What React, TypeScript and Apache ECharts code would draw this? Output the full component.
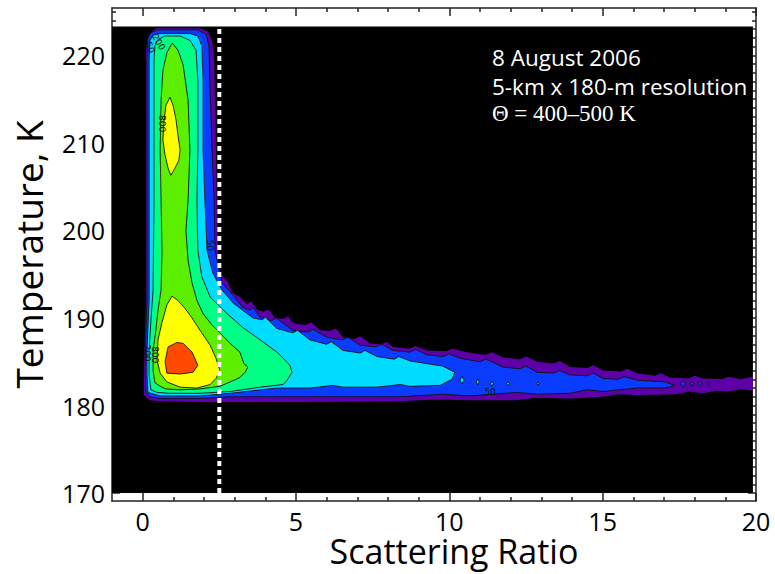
import React, { useEffect, useRef } from "react";
import * as echarts from "echarts";

// ---- axes ----
const X_MIN = -1;
const X_MAX = 20;
const Y_MIN = 169.1;
const Y_MAX = 225.4;
const X_MAJOR = [0, 5, 10, 15, 20];
const X_MINOR = [1, 2, 3, 4, 6, 7, 8, 9, 11, 12, 13, 14, 16, 17, 18, 19];
const Y_MAJOR = [170, 180, 190, 200, 210, 220];
const Y_MINOR = [171, 172, 173, 174, 175, 176, 177, 178, 179, 181, 182, 183, 184, 185, 186, 187, 188, 189,
  191, 192, 193, 194, 195, 196, 197, 198, 199, 201, 202, 203, 204, 205, 206, 207, 208, 209,
  211, 212, 213, 214, 215, 216, 217, 218, 219, 221, 222, 223, 224, 225];
const X_TITLE = "Scattering Ratio";
const Y_TITLE = "Temperature, K";

// ---- data grid extent (black background) ----
const GRID_X = [-1, 19.9];
const GRID_T = [170, 223.3];
const THRESHOLD_X = 2.5;

// ---- annotation ----
const NOTE_LINES = ["8 August 2006", "5-km x 180-m resolution", "Θ = 400–500 K"];

// ---- contour levels: [scattering ratio, temperature K] outlines ----
const PURPLE_LEVEL = [
  [0.04, 181.2], [0.04, 184.0], [0.08, 188.6], [0.11, 192.0], [0.11, 209.2], [0.11, 220.6], [0.21, 222.4],
  [0.43, 223.1], [1.87, 223.1], [2.13, 222.7], [2.26, 221.7], [2.33, 219.4], [2.39, 209.2], [2.42, 201.2],
  [2.46, 196.0], [2.59, 194.8], [2.78, 194.1], [2.91, 192.9], [3.17, 192.4], [3.4, 191.6], [3.55, 191.9],
  [3.73, 190.9], [3.95, 190.7], [4.1, 191.0], [4.32, 190.0], [4.6, 189.9], [4.75, 190.2], [4.9, 189.4],
  [5.3, 189.2], [5.5, 189.5], [5.78, 188.6], [6.1, 188.5], [6.3, 188.8], [6.53, 187.8], [6.9, 187.6],
  [7.1, 187.9], [7.41, 187.1], [7.8, 187.0], [7.95, 187.3], [8.16, 186.7], [8.7, 186.5], [8.9, 186.8],
  [9.27, 186.3], [9.9, 186.2], [10.1, 186.5], [10.67, 186.0], [11.2, 185.8], [11.4, 186.1], [11.75, 185.5],
  [12.3, 185.3], [12.5, 185.6], [12.86, 185.0], [13.4, 184.8], [13.6, 185.1], [13.93, 184.4], [14.5, 184.3],
  [14.7, 184.6], [15.01, 184.0], [15.6, 183.9], [15.8, 184.2], [16.12, 183.7], [16.7, 183.4], [16.9, 183.7],
  [17.2, 183.2], [17.8, 183.1], [18.0, 183.4], [18.27, 183.1], [18.9, 183.0], [19.1, 183.3], [19.5, 183.0],
  [19.9, 183.3], [19.9, 181.7], [19.5, 181.9], [19.1, 181.6], [18.7, 181.7], [18.27, 181.4], [17.8, 181.6],
  [17.4, 181.3], [16.12, 181.2], [15.5, 181.3], [15.0, 181.0], [13.93, 180.8], [12.8, 180.9], [12.2, 180.6],
  [10.67, 180.6], [9.5, 180.7], [8.39, 180.5], [5.13, 180.4], [1.87, 180.4], [0.57, 180.5], [0.24, 180.6],
];
const BLUE_LEVEL = [
  [0.17, 221.9], [0.27, 222.6], [0.5, 222.9], [1.8, 222.9], [2.07, 222.4], [2.16, 221.1], [2.2, 216.0],
  [2.26, 209.2], [2.33, 203.4], [2.36, 197.7], [2.46, 196.0], [2.59, 194.0], [2.95, 192.6], [3.27, 191.2],
  [3.5, 190.9], [3.6, 191.2], [3.83, 190.1], [4.2, 189.7], [4.35, 190.0], [4.9, 188.6], [5.4, 188.4],
  [5.55, 188.7], [6.01, 187.8], [6.5, 187.5], [6.7, 187.8], [7.09, 186.9], [7.6, 186.7], [7.8, 187.0],
  [8.16, 186.3], [8.7, 186.1], [8.9, 186.4], [9.27, 185.8], [9.8, 185.6], [10.0, 185.9], [10.35, 185.4],
  [11.0, 185.0], [11.2, 185.3], [11.75, 184.4], [12.3, 184.2], [12.5, 184.5], [12.86, 183.8], [13.4, 183.7],
  [13.6, 184.0], [13.93, 183.5], [14.5, 183.4], [14.7, 183.7], [15.01, 183.1], [15.5, 183.0], [15.7, 183.3],
  [16.12, 182.9], [17.03, 182.7], [17.36, 182.3], [17.03, 182.0], [16.12, 182.0], [15.01, 181.6],
  [14.5, 181.8], [13.93, 181.4], [12.86, 181.3], [12.2, 181.5], [10.67, 181.1], [9.8, 181.3], [8.39, 181.0],
  [5.13, 181.0], [2.85, 181.0], [1.87, 180.8], [0.57, 180.8], [0.24, 181.0], [0.11, 181.5], [0.08, 184.0],
  [0.11, 188.6], [0.14, 192.0], [0.14, 209.2], [0.14, 219.4],
];
const CYAN_LEVEL = [
  [0.24, 221.7], [0.34, 222.3], [0.57, 222.5], [1.54, 222.5], [1.8, 222.2], [1.93, 221.1], [1.97, 217.1],
  [1.97, 209.2], [2.03, 203.4], [2.1, 197.7], [2.29, 195.1], [2.59, 193.2], [2.95, 191.7], [3.6, 190.0],
  [3.9, 189.8], [4.0, 190.1], [4.38, 188.8], [4.9, 188.3], [5.05, 188.6], [5.46, 187.5], [6.0, 187.0],
  [6.15, 187.3], [6.53, 186.3], [7.1, 186.0], [7.25, 186.3], [7.64, 185.6], [8.2, 185.3], [8.35, 185.6],
  [8.72, 185.1], [9.79, 184.5], [10.18, 183.8], [10.09, 183.0], [9.7, 182.3], [8.72, 182.2], [8.4, 182.4],
  [7.64, 182.1], [6.53, 182.1], [6.2, 182.3], [5.46, 182.0], [4.38, 182.0], [2.85, 181.4], [1.87, 181.1],
  [0.57, 181.1], [0.17, 181.5], [0.14, 183.5], [0.14, 186.3], [0.21, 192.0], [0.21, 209.2], [0.21, 219.4],
];
const SPRING_LEVEL = [
  [0.4, 221.1], [0.5, 221.8], [0.73, 222.2], [1.22, 222.2], [1.54, 221.7], [1.74, 220.6], [1.8, 217.1],
  [1.8, 209.2], [1.77, 203.4], [1.8, 197.7], [1.93, 194.7], [2.2, 192.4], [2.75, 190.5], [3.27, 188.9],
  [3.83, 187.5], [4.38, 186.1], [4.58, 185.4], [4.8, 184.6], [4.87, 183.8], [4.71, 182.9], [4.58, 182.4],
  [3.83, 182.1], [2.85, 181.6], [1.87, 181.4], [0.89, 181.4], [0.47, 181.5], [0.27, 181.8], [0.21, 183.5],
  [0.21, 186.3], [0.27, 189.7], [0.34, 193.2], [0.37, 203.4], [0.37, 214.9], [0.37, 219.4],
];
const LIME_LEVEL = [
  [0.96, 221.4], [1.15, 220.6], [1.32, 218.9], [1.48, 214.9], [1.54, 209.2], [1.48, 203.4], [1.41, 200.0],
  [1.48, 196.6], [1.61, 194.0], [1.77, 192.0], [1.97, 190.5], [2.26, 189.2], [2.52, 188.3], [2.85, 187.1],
  [3.17, 186.1], [3.3, 184.8], [3.43, 184.4], [3.34, 183.8], [3.17, 183.2], [2.85, 182.7], [2.52, 182.2],
  [1.87, 181.9], [1.22, 181.8], [0.76, 181.9], [0.57, 182.2], [0.4, 182.6], [0.34, 184.0], [0.34, 186.3],
  [0.43, 188.6], [0.5, 190.9], [0.6, 193.2], [0.63, 197.7], [0.6, 203.4], [0.57, 209.2], [0.6, 214.9],
  [0.66, 218.3], [0.79, 220.3],
];
const YELLOW_UPPER = [
  [0.89, 215.2], [0.99, 214.3], [1.09, 212.6], [1.15, 210.9], [1.22, 209.2], [1.18, 208.0], [1.05, 207.1],
  [0.92, 206.3], [0.83, 207.1], [0.73, 208.6], [0.66, 210.3], [0.7, 212.6], [0.76, 214.3],
];
const YELLOW_LOWER = [
  [0.96, 192.5], [1.15, 192.0], [1.38, 191.1], [1.61, 190.0], [1.87, 188.6], [2.2, 186.9], [2.39, 185.4],
  [2.52, 184.0], [2.39, 183.1], [2.2, 182.4], [1.77, 182.0], [1.22, 182.1], [0.79, 182.7], [0.57, 183.7],
  [0.47, 185.2], [0.5, 187.5], [0.63, 189.5], [0.79, 191.5],
];
const RED_LEVEL = [
  [1.12, 187.2], [1.32, 187.1], [1.61, 186.1], [1.8, 184.6], [1.64, 183.8], [1.22, 183.6], [0.79, 183.7],
  [0.73, 185.0], [0.83, 186.7],
];
// small islands beyond the main band tips: [x, T, half-width x, half-height T]
const CYAN_ISLANDS = [
  [10.41, 182.9, 0.07, 0.45], [10.93, 182.7, 0.05, 0.35], [11.39, 182.5, 0.05, 0.3], [11.91, 182.5, 0.05, 0.25],
  [12.89, 182.5, 0.04, 0.2],
];
const BLUE_ISLANDS = [
  [17.62, 182.5, 0.08, 0.35], [17.91, 182.5, 0.06, 0.3], [18.17, 182.5, 0.06, 0.3], [18.45, 182.5, 0.04, 0.2],
];

// contour labels: [text, x, T, rotation deg]
const CONTOUR_LABELS: [string, number, number, number][] = [
  ["800", 0.63, 212.2, -90],
  ["50", 2.2, 198.3, -90],
  ["200", 0.52, 221.5, -60],
  ["50", 0.24, 220.9, -70],
  ["800", 0.4, 185.8, -90],
  ["200", 0.14, 186.0, -90],
  ["50", 11.33, 181.6, 0],
];

const COLORS = {
  purple: "#5e00a8",
  blue: "#0a3cff",
  cyan: "#00dcff",
  spring: "#00ff84",
  lime: "#5cf000",
  yellow: "#ffff00",
  red: "#ff4a00",
};

const FONT = "'Open Sans', 'DejaVu Sans', sans-serif";

export default function App() {
  const ref = useRef<HTMLDivElement>(null);
  useEffect(() => {
    if (!ref.current) return;
    const chart = echarts.init(ref.current, undefined, { renderer: "svg" });
    const background = [
      [GRID_X[0], GRID_T[0]], [GRID_X[1], GRID_T[0]], [GRID_X[1], GRID_T[1]], [GRID_X[0], GRID_T[1]],
    ];
    const island = (c: number[]) => [
      [c[0], c[1] + c[3]], [c[0] + c[2], c[1]], [c[0], c[1] - c[3]], [c[0] - c[2], c[1]],
    ];
    const layers = [
      { pts: background, fill: "#000", line: false },
      { pts: PURPLE_LEVEL, fill: COLORS.purple, line: false },
      { pts: BLUE_LEVEL, fill: COLORS.blue, line: true },
      ...BLUE_ISLANDS.map((c) => ({ pts: island(c), fill: COLORS.blue, line: true })),
      { pts: CYAN_LEVEL, fill: COLORS.cyan, line: true },
      ...CYAN_ISLANDS.map((c) => ({ pts: island(c), fill: COLORS.cyan, line: true })),
      { pts: SPRING_LEVEL, fill: COLORS.spring, line: true },
      { pts: LIME_LEVEL, fill: COLORS.lime, line: true },
      { pts: YELLOW_UPPER, fill: COLORS.yellow, line: true },
      { pts: YELLOW_LOWER, fill: COLORS.yellow, line: true },
      { pts: RED_LEVEL, fill: COLORS.red, line: true },
    ];
    const lineStyle = { color: "#222", width: 1.5 };
    const baseX = { type: "value", min: X_MIN, max: X_MAX, splitLine: { show: false } };
    const baseY = { type: "value", min: Y_MIN, max: Y_MAX, splitLine: { show: false } };
    const option: any = {
      animation: false,
      backgroundColor: "#fff",
      grid: { left: 112, right: 19, top: 8, bottom: 73, containLabel: false, outerBoundsMode: "none" },
      xAxis: [
        {
          ...baseX, position: "bottom",
          axisLine: { show: true, onZero: false, lineStyle },
          axisTick: { show: true, inside: true, length: 8, customValues: X_MAJOR, lineStyle },
          axisLabel: { customValues: X_MAJOR, fontSize: 25, lineHeight: 22, fontFamily: FONT, color: "#000", margin: 9 },
        },
        {
          ...baseX, position: "bottom",
          axisLine: { show: false, onZero: false },
          axisTick: { show: true, inside: true, length: 4, customValues: X_MINOR, lineStyle },
          axisLabel: { show: false },
        },
        {
          ...baseX, position: "top",
          axisLine: { show: true, onZero: false, lineStyle },
          axisTick: { show: true, inside: true, length: 8, customValues: X_MAJOR, lineStyle },
          axisLabel: { show: false },
        },
        {
          ...baseX, position: "top",
          axisLine: { show: false, onZero: false },
          axisTick: { show: true, inside: true, length: 4, customValues: X_MINOR, lineStyle },
          axisLabel: { show: false },
        },
      ],
      yAxis: [
        {
          ...baseY, position: "left",
          axisLine: { show: true, onZero: false, lineStyle },
          axisTick: { show: true, inside: true, length: 8, customValues: Y_MAJOR, lineStyle },
          axisLabel: { customValues: Y_MAJOR, fontSize: 25, lineHeight: 24, fontFamily: FONT, color: "#000", margin: 7 },
          name: Y_TITLE, nameLocation: "middle", nameGap: 65,
          nameTextStyle: { fontSize: 37, fontFamily: FONT, color: "#000" },
        },
        {
          ...baseY, position: "left",
          axisLine: { show: false, onZero: false },
          axisTick: { show: true, inside: true, length: 4, customValues: Y_MINOR, lineStyle },
          axisLabel: { show: false },
        },
        {
          ...baseY, position: "right",
          axisLine: { show: true, onZero: false, lineStyle },
          axisTick: { show: true, inside: true, length: 8, customValues: Y_MAJOR, lineStyle },
          axisLabel: { show: false },
        },
        {
          ...baseY, position: "right",
          axisLine: { show: false, onZero: false },
          axisTick: { show: true, inside: true, length: 4, customValues: Y_MINOR, lineStyle },
          axisLabel: { show: false },
        },
      ],
      series: [
        {
          type: "custom",
          xAxisIndex: 0,
          yAxisIndex: 0,
          silent: true,
          z: 2,
          data: layers.map((l) => l.pts[0]),
          renderItem: (params: any, api: any) => {
            const layer = layers[params.dataIndex];
            return {
              type: "polygon",
              shape: { points: layer.pts.map((p) => api.coord(p)) },
              style: {
                fill: layer.fill,
                stroke: layer.line ? "#111" : null,
                lineWidth: layer.line ? 0.9 : 0,
              },
            };
          },
        },
        {
          type: "custom",
          xAxisIndex: 0,
          yAxisIndex: 0,
          silent: true,
          z: 3,
          data: CONTOUR_LABELS.map((c) => [c[1], c[2]]),
          renderItem: (params: any, api: any) => {
            const c = CONTOUR_LABELS[params.dataIndex];
            const pt = api.coord([c[1], c[2]]);
            return {
              type: "text",
              x: pt[0],
              y: pt[1],
              rotation: (c[3] * Math.PI) / 180,
              style: {
                text: c[0],
                fontSize: 9,
                fontFamily: "'DejaVu Sans', sans-serif",
                fill: "#111",
                align: "center",
                verticalAlign: "middle",
              },
            };
          },
        },
        {
          type: "line",
          xAxisIndex: 0,
          yAxisIndex: 0,
          silent: true,
          z: 4,
          symbol: "none",
          data: [[THRESHOLD_X, GRID_T[0]], [THRESHOLD_X, GRID_T[1]]],
          lineStyle: { color: "#fff", width: 4, type: [5, 4] },
        },
      ],
      graphic: [
        { type: "text", x: 454, y: 551, z: 10, style: { text: X_TITLE, fontSize: 34, lineHeight: 30, align: "center", verticalAlign: "middle", fontFamily: FONT, fill: "#000" } },
        { type: "text", x: 492, y: 57, z: 10, style: { text: NOTE_LINES[0], fontSize: 22.5, lineHeight: 22, verticalAlign: "middle", fontFamily: FONT, fill: "#fff" } },
        { type: "text", x: 492, y: 86, z: 10, style: { text: NOTE_LINES[1], fontSize: 22.5, lineHeight: 22, verticalAlign: "middle", fontFamily: FONT, fill: "#fff" } },
        { type: "text", x: 492, y: 113, z: 10, style: { text: NOTE_LINES[2], fontSize: 23, lineHeight: 22, verticalAlign: "middle", fontFamily: "'Liberation Serif', serif", fill: "#fff" } },
      ],
    };
    chart.setOption(option);
    return () => chart.dispose();
  }, []);
  return (
    <div
      ref={ref}
      style={{ position: "fixed", left: 0, top: 0, width: 775, height: 574, background: "#fff" }}
    />
  );
}
